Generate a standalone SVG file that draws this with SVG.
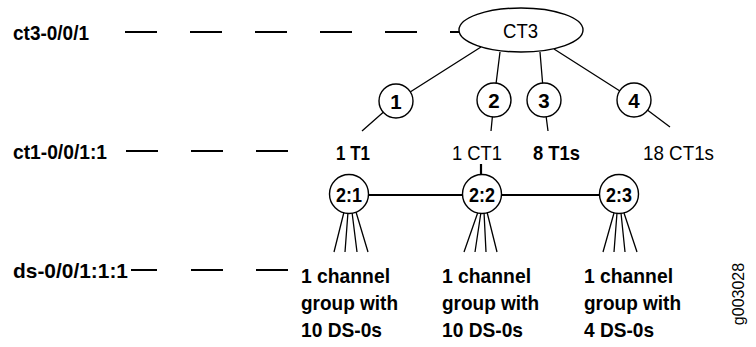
<svg xmlns="http://www.w3.org/2000/svg" width="756" height="347" viewBox="0 0 756 347">
<style>
text{font-family:"Liberation Sans",Arial,sans-serif;fill:#000}
.b{font-weight:bold;font-size:20.5px}
.r{font-size:20.5px}
.dash{stroke:#000;stroke-width:2.2;stroke-dasharray:32 33;fill:none}
.ln{stroke:#000;stroke-width:1.3;fill:none}
.thick{stroke:#000;stroke-width:2.2;fill:none}
.node{fill:#fff;stroke:#000;stroke-width:1.4}
.c{text-anchor:middle}
</style>
<rect width="756" height="347" fill="#fff"/>
<g id="connectors">
<path class="dash" d="M125 32H459"/>
<path class="dash" d="M126 151H288"/>
<path class="thick" d="M131 270H157M191 270H223M256 270H288"/>
<path class="ln" d="M481 47L396 101L362 131"/>
<path class="ln" d="M500 52L494 100L491 131"/>
<path class="ln" d="M540 52L544 100L548 131"/>
<path class="ln" d="M554 49L634 100L670 127"/>
<path class="thick" d="M349 195H619"/>
<path class="thick" d="M481 164V176"/>
<path class="ln" d="M344 212L334 252M348 212L345 252M352 212L357 252M356 212L368 252"/>
<path class="ln" d="M478 212L464 252M481 212L475 252M484 212L486 252M487 212L497 252"/>
<path class="ln" d="M614 213L603 252M617 213L614 252M621 213L625 252M624 213L637 252"/>
</g>
<g id="label-ct3"><text class="b" x="13" y="39.5" textLength="76" lengthAdjust="spacingAndGlyphs">ct3-0/0/1</text></g>
<g id="label-ct1"><text class="b" x="13" y="158.5" textLength="94" lengthAdjust="spacingAndGlyphs">ct1-0/0/1:1</text></g>
<g id="label-ds"><text class="b" x="13" y="277.5" textLength="115" lengthAdjust="spacingAndGlyphs">ds-0/0/1:1:1</text></g>
<g id="CT3"><ellipse class="node" cx="521" cy="30" rx="62" ry="22"/><text class="r" x="503" y="37.5" textLength="35" lengthAdjust="spacingAndGlyphs">CT3</text></g>
<g id="n1"><circle class="node" cx="396" cy="101" r="17"/><text class="b c" x="396" y="108.5">1</text></g>
<g id="n2"><circle class="node" cx="494" cy="100" r="17"/><text class="b c" x="494" y="107.5">2</text></g>
<g id="n3"><circle class="node" cx="544" cy="100" r="17"/><text class="b c" x="544" y="107.5">3</text></g>
<g id="n4"><circle class="node" cx="634" cy="100" r="17"/><text class="b c" x="634" y="107.5">4</text></g>
<g id="t1"><text class="b" x="336" y="159.5" textLength="34" lengthAdjust="spacingAndGlyphs">1 T1</text></g>
<g id="ct1"><text class="r" x="452" y="159.5" textLength="50" lengthAdjust="spacingAndGlyphs">1 CT1</text></g>
<g id="t1s"><text class="b" x="533" y="159.5" textLength="47" lengthAdjust="spacingAndGlyphs">8 T1s</text></g>
<g id="ct1s"><text class="r" x="643" y="159.5" textLength="71" lengthAdjust="spacingAndGlyphs">18 CT1s</text></g>
<g id="n21"><circle class="node" cx="349" cy="194" r="19.5"/><text class="b" x="336" y="201.5" textLength="26" lengthAdjust="spacingAndGlyphs">2:1</text></g>
<g id="n22"><circle class="node" cx="482" cy="194" r="19.5"/><text class="b" x="469" y="201.5" textLength="26" lengthAdjust="spacingAndGlyphs">2:2</text></g>
<g id="n23"><circle class="node" cx="619" cy="194" r="19.5"/><text class="b" x="606" y="201.5" textLength="26" lengthAdjust="spacingAndGlyphs">2:3</text></g>
<g id="g1"><text class="b" x="301" y="282.5" textLength="89" lengthAdjust="spacingAndGlyphs">1 channel</text><text class="b" x="301" y="309.5" textLength="97" lengthAdjust="spacingAndGlyphs">group with</text><text class="b" x="301" y="336.5" textLength="81" lengthAdjust="spacingAndGlyphs">10 DS-0s</text></g>
<g id="g2"><text class="b" x="442" y="282.5" textLength="89" lengthAdjust="spacingAndGlyphs">1 channel</text><text class="b" x="442" y="309.5" textLength="97" lengthAdjust="spacingAndGlyphs">group with</text><text class="b" x="442" y="336.5" textLength="81" lengthAdjust="spacingAndGlyphs">10 DS-0s</text></g>
<g id="g3"><text class="b" x="584" y="282.5" textLength="89" lengthAdjust="spacingAndGlyphs">1 channel</text><text class="b" x="584" y="309.5" textLength="97" lengthAdjust="spacingAndGlyphs">group with</text><text class="b" x="584" y="336.5" textLength="70" lengthAdjust="spacingAndGlyphs">4 DS-0s</text></g>
<g id="id"><text class="r c" style="font-size:16px" transform="translate(744 294) rotate(-90)">g003028</text></g>
</svg>
